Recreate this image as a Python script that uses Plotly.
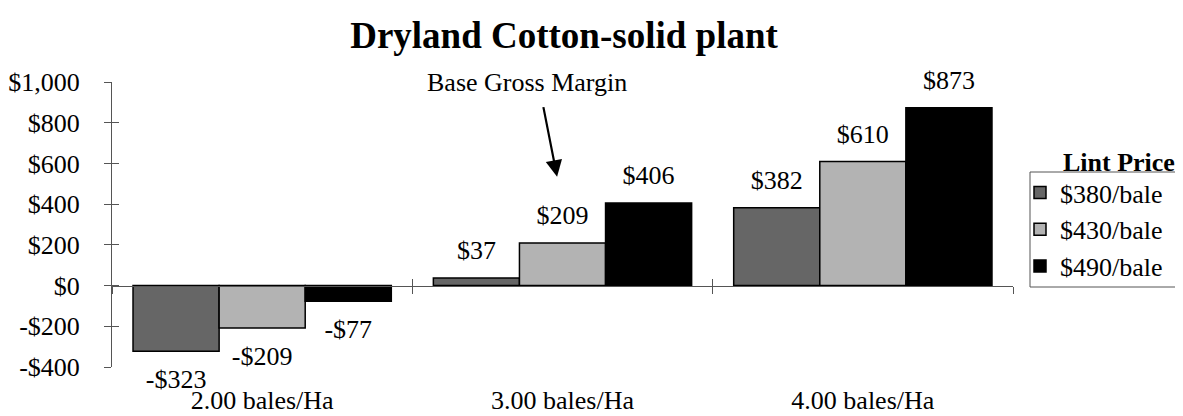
import plotly.graph_objects as go

categories = ["2.00 bales/Ha", "3.00 bales/Ha", "4.00 bales/Ha"]
series_names = ["$380/bale", "$430/bale", "$490/bale"]
values_380 = [-323, 37, 382]
values_430 = [-209, 209, 610]
values_490 = [-77, 406, 873]
colors = ["#666666", "#b3b3b3", "#000000"]
y_tickvals = [-400, -200, 0, 200, 400, 600, 800, 1000]
y_ticktext = ["-$400", "-$200", "$0", "$200", "$400", "$600", "$800", "$1,000"]
group_bounds = [-0.5, 0.5, 1.5, 2.5]

FONT = "Liberation Serif, Times New Roman, serif"
FS = 26

# the page body has an 8px margin, so the figure is sized to fit inside the window
W, H = 1175, 408
L, R, T, B = 104, 170, 74, 49
pw = W - L - R
ph = H - T - B


def money(v):
    return ("-$" if v < 0 else "$") + f"{abs(v):,}"


def px_x(x):  # figure pixel -> paper fraction
    return (x - L) / pw


def px_y(y):
    return (H - B - y) / ph


fig = go.Figure()
all_series = [values_380, values_430, values_490]
for i, (name, vals, col) in enumerate(zip(series_names, all_series, colors)):
    fig.add_trace(go.Bar(
        x=categories, y=vals, name=name, offsetgroup=str(i),
        marker=dict(color=col, line=dict(color="#000000", width=1.5)),
        hoverinfo="skip",
    ))
# value labels, grouped the same way as the bars
for i, (name, vals) in enumerate(zip(series_names, all_series)):
    fig.add_trace(go.Scatter(
        x=categories, y=vals, offsetgroup=str(i), mode="markers+text",
        text=[money(v) for v in vals],
        textposition=["bottom center" if v < 0 else "top center" for v in vals],
        marker=dict(size=[26 if v < 0 else 18 for v in vals], color="rgba(0,0,0,0)",
                    line=dict(width=0)),
        textfont=dict(family=FONT, size=FS, color="#000000"),
        cliponaxis=False, hoverinfo="skip", showlegend=False,
    ))

# helper axes for crossing ticks
fig.add_trace(go.Scatter(x=[], y=[], xaxis="x2", yaxis="y2", showlegend=False))
fig.add_trace(go.Scatter(x=[], y=[], xaxis="x3", yaxis="y", showlegend=False))

zero_pos = (0 - (-400)) / 1400

fig.update_layout(
    width=W, height=H,
    margin=dict(l=L, r=R, t=T, b=B, autoexpand=False),
    paper_bgcolor="white", plot_bgcolor="white",
    font=dict(family=FONT, size=FS, color="#000000"),
    barmode="group", bargap=0.14, bargroupgap=0,
    scattermode="group", scattergap=0.14,
    title=dict(text="<b>Dryland Cotton-solid plant</b>", x=556 / W, xanchor="center",
               y=1 - 27 / H, yanchor="middle", font=dict(family=FONT, size=37, color="#000000")),
    xaxis=dict(type="category", showline=False, ticks="", showgrid=False, zeroline=False,
               automargin=False, ticklabelstandoff=15, tickfont=dict(family=FONT, size=FS)),
    xaxis2=dict(overlaying="x", anchor="free", position=zero_pos, range=[-0.5, 2.5],
                showline=True, linecolor="#555555", linewidth=1, ticks="outside", ticklen=7,
                tickcolor="#555555", tickvals=group_bounds, showticklabels=False,
                showgrid=False, zeroline=False, automargin=False),
    xaxis3=dict(overlaying="x", anchor="free", position=zero_pos, range=[-0.5, 2.5],
                showline=False, ticks="inside", ticklen=7,
                tickcolor="#555555", tickvals=group_bounds[:-1], showticklabels=False,
                showgrid=False, zeroline=False, automargin=False),
    yaxis=dict(range=[-400, 1000], tickvals=y_tickvals, ticktext=y_ticktext,
               showline=True, linecolor="#555555", linewidth=1, ticks="outside", ticklen=7,
               tickcolor="#555555", showgrid=False, zeroline=False, automargin=False,
               tickfont=dict(family=FONT, size=FS), ticklabelstandoff=19),
    yaxis2=dict(overlaying="y", range=[-400, 1000], tickvals=y_tickvals, showticklabels=False,
                ticks="inside", ticklen=7, tickcolor="#555555", showline=False,
                showgrid=False, zeroline=False, automargin=False),
    legend=dict(x=px_x(1012), xanchor="left", y=px_y(161), yanchor="top",
                borderwidth=0, bgcolor="rgba(0,0,0,0)",
                font=dict(family=FONT, size=FS, color="#000000"),
                itemwidth=30, tracegroupgap=0),
    showlegend=True,
)

# legend frame
fig.add_shape(type="rect", xref="paper", yref="paper",
              x0=px_x(1022), x1=px_x(1168), y0=px_y(279), y1=px_y(164),
              line=dict(color="#555555", width=1), fillcolor="rgba(0,0,0,0)", layer="below")

fig.add_annotation(text="Lint Price", xref="paper", yref="paper", x=px_x(1169),
                   xanchor="right", y=px_y(154), yanchor="middle", showarrow=False,
                   font=dict(family=FONT, size=FS, color="#000000", weight="bold"))

# arrow (no text) pointing at the base case, and its label
fig.add_annotation(text="", x=0.982, y=535, xref="x", yref="y",
                   showarrow=True, arrowhead=2, arrowsize=1.5, arrowwidth=2.2, arrowcolor="#000000",
                   ax=-14, ay=-71)
fig.add_annotation(text="Base Gross Margin", xref="paper", yref="paper",
                   x=px_x(519), y=px_y(74), xanchor="center", yanchor="middle",
                   showarrow=False, font=dict(family=FONT, size=FS, color="#000000"))

fig.write_html("out.html")
